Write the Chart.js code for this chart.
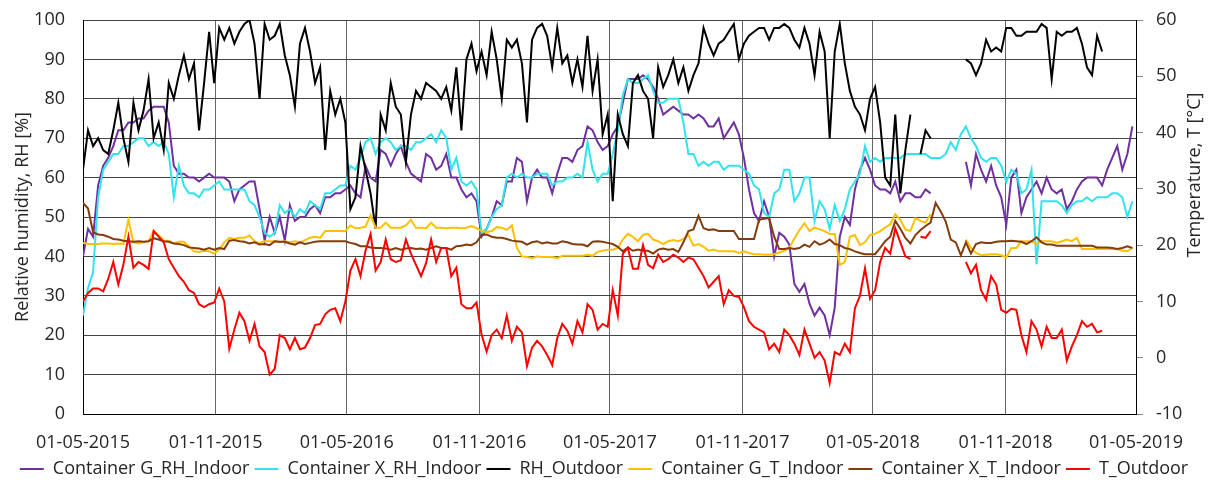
<!DOCTYPE html>
<html>
<head>
<meta charset="utf-8">
<script src="https://cdn.jsdelivr.net/npm/chart.js@4/dist/chart.umd.min.js"></script>
<style>
  html, body { margin: 0; padding: 0; background: #fff; }
  #wrap { width: 1208px; height: 485px; }
</style>
</head>
<body>
<div id="wrap"><canvas id="chart" width="1208" height="485"></canvas></div>
<script>
// weekly readings, week 0 = 01-05-2015
const G_RH_IN = [
  40, 47, 45, 58, 63, 65, 68, 72, 72, 74,
  74, 75, 75, 77, 78, 78, 78, 74, 63, 61,
  61, 60, 60, 59, 60, 61, 60, 60, 60, 59,
  54, 57, 58, 59, 59, 52, 44, 50, 46, 50,
  44, 53, 49, 50, 50, 52, 53, 51, 55, 55,
  56, 56, 57, 58, 56, 55, 63, 60, 59, 67,
  66, 63, 66, 68, 64, 61, 60, 59, 66, 65,
  62, 63, 66, 60, 60, 57, 55, 56, 54, 45,
  47, 50, 54, 53, 59, 59, 65, 64, 54, 60,
  62, 60, 60, 56, 61, 65, 65, 64, 67, 68,
  73, 72, 69, 67, 68, 71, 73, 79, 85, 85,
  85, 86, 85, 83, 80, 76, 77, 78, 77, 76,
  76, 75, 76, 75, 73, 73, 75, 70, 72, 74,
  71, 65, 57, 51, 49, 54, 50, 40, 46, 45,
  43, 33, 31, 33, 28, 25, 27, 25, 20, 27,
  45, 50, 48, 57, 62, 65, 62, 58, 57, 57,
  56, 59, 54, 56, 56, 55, 55, 57, 56, null,
  null, null, null, null, null, 64, 58, 66, 62, 59,
  63, 58, 55, 48, 60, 62, 51, 55, 57, 59,
  56, 60, 57, 56, 57, 52, 54, 57, 59, 60,
  60, 60, 58, 62, 65, 68, 62, 66, 73
];
const X_RH_IN = [
  25, 32, 36, 55, 62, 64, 66, 66, 68, 68,
  69, 70, 70, 68, 69, 68, 69, 66, 55, 63,
  58, 56, 56, 55, 57, 57, 58, 59, 57, 57,
  57, 57, 57, 54, 53, 50, 46, 45, 46, 53,
  51, 52, 50, 52, 51, 54, 53, 52, 56, 56,
  57, 58, 58, 63, 62, 65, 69, 70, 66, 69,
  70, 69, 67, 68, 68, 67, 69, 69, 70, 71,
  69, 72, 70, 62, 65, 59, 58, 59, 57, 46,
  47, 50, 52, 53, 60, 61, 60, 61, 60, 60,
  61, 61, 61, 58, 59, 59, 60, 60, 61, 60,
  69, 62, 59, 61, 61, 66, 72, 81, 85, 84,
  84, 85, 86, 82, 79, 79, 80, 80, 80, 74,
  66, 66, 63, 64, 63, 64, 64, 62, 63, 63,
  63, 62, 61, 58, 57, 51, 50, 56, 57, 62,
  62, 54, 56, 60, 60, 49, 54, 52, 47, 53,
  49, 52, 57, 59, 61, 68, 64, 65, 64, 65,
  65, 65, 65, 66, 66, 66, 66, 66, 65, 65,
  65, 66, 69, 67, 71, 73, 70, 68, 65, 64,
  65, 65, 63, 59, 62, 61, 56, 57, 62, 38,
  54, 54, 54, 54, 53, 51, 53, 54, 54, 55,
  54, 55, 55, 55, 56, 56, 55, 50, 54
];
const RH_OUT = [
  62, 72, 68, 70, 67, 66, 72, 79, 70, 64,
  79, 72, 77, 85, 70, 74, 67, 84, 80, 86,
  91, 85, 89, 72, 84, 97, 84, 98, 95, 98,
  94, 97, 99, 100, 94, 80, 99, 95, 96, 99,
  91, 86, 78, 94, 98, 92, 84, 88, 67, 82,
  76, 80, 74, 52, 55, 68, 62, 56, 47, 76,
  72, 84, 78, 76, 64, 76, 82, 80, 84, 83,
  82, 80, 83, 77, 88, 72, 90, 94, 87, 92,
  86, 97, 90, 80, 95, 93, 95, 89, 74, 95,
  98, 99, 96, 88, 98, 89, 91, 84, 90, 83,
  96, 82, 90, 71, 76, 54, 76, 71, 68, 84,
  86, 82, 80, 70, 88, 83, 86, 90, 84, 88,
  82, 86, 89, 98, 94, 91, 94, 95, 97, 99,
  90, 94, 96, 97, 98, 98, 95, 98, 98, 99,
  98, 95, 93, 98, 94, 86, 97, 92, 70, 92,
  99, 89, 82, 78, 76, 72, 80, 83, 74, 60,
  58, 76, 56, 67, 76, null, 66, 72, 70, null,
  null, null, null, null, null, 90, 89, 86, 89, 95,
  92, 93, 92, 98, 98, 96, 96, 97, 97, 97,
  99, 98, 85, 97, 96, 97, 97, 98, 94, 88,
  86, 96, 92, null, null, null, null, null, null
];
const G_T_IN = [
  20.4, 20.2, 20.2, 20.2, 20.3, 20.3, 20.2, 20.3, 20.2, 24.5,
  20.5, 20.3, 20.5, 20.7, 22.5, 21.8, 20.8, 20.8, 20.3, 20.6,
  20.6, 19.8, 18.9, 18.8, 19.0, 18.9, 18.5, 19.2, 20.5, 21.3,
  21.1, 21.3, 21.3, 21.7, 20.7, 20.4, 20.7, 20.7, 20.7, 20.5,
  20.7, 20.5, 20.7, 20.5, 20.9, 21.3, 21.5, 21.3, 22.5, 22.5,
  22.5, 22.5, 22.5, 23.5, 23.0, 23.1, 23.3, 25.3, 23.1, 23.1,
  24.0, 23.1, 23.1, 23.1, 23.5, 24.5, 23.1, 23.1, 23.0, 24.0,
  23.1, 23.1, 23.0, 23.1, 23.1, 23.0, 23.1, 23.4, 23.0, 22.5,
  22.3, 22.5, 23.2, 23.1, 22.7, 23.5, 19.5, 18.0, 17.9, 17.7,
  18.0, 17.9, 17.9, 17.9, 17.7, 18.1, 18.1, 18.1, 18.1, 18.1,
  18.3, 18.1, 18.8, 19.0, 19.2, 19.2, 19.5, 21.0, 22.0, 21.5,
  20.7, 21.8, 22.0, 21.0, 20.7, 20.2, 20.7, 20.9, 20.7, 21.1,
  21.8, 19.9, 20.2, 19.7, 19.0, 19.2, 18.9, 18.9, 18.9, 18.9,
  18.6, 18.9, 18.6, 18.4, 18.4, 18.3, 18.3, 18.4, 18.7, 19.0,
  19.5, 21.2, 22.7, 23.9, 22.5, 23.1, 22.8, 22.5, 22.0, 22.0,
  16.5, 17.0, 21.5, 21.8, 20.0, 20.5, 21.8, 22.0, 22.5, 23.1,
  23.7, 25.5, 24.5, 22.8, 22.5, 24.8, 24.3, 24.0, 25.5, null,
  null, null, null, null, null, 21.0, 19.5, 18.6, 18.2, 18.3,
  18.4, 18.4, 18.2, 17.8, 19.5, 19.5, 20.7, 20.7, 20.7, 20.2,
  20.7, 20.7, 20.7, 20.4, 20.7, 21.0, 20.7, 21.3, 19.3, 19.3,
  19.3, 19.3, 19.3, 19.3, 19.3, 19.3, 19.0, 18.9, 19.5
];
const X_T_IN = [
  27.5, 26.5, 22.3, 21.9, 21.8, 21.5, 21.1, 21.0, 20.8, 20.7,
  20.6, 20.7, 20.6, 20.7, 21.2, 21.0, 20.7, 20.6, 20.3, 20.2,
  20.0, 19.6, 19.5, 19.4, 19.2, 19.5, 19.2, 19.5, 19.3, 20.8,
  20.9, 20.7, 20.6, 20.3, 20.5, 20.1, 20.2, 20.0, 20.7, 20.6,
  20.6, 20.3, 20.1, 20.5, 20.2, 20.4, 20.6, 20.7, 20.7, 20.7,
  20.7, 20.7, 20.7, 20.4, 20.2, 19.8, 19.8, 19.6, 19.5, 19.5,
  19.4, 19.2, 19.5, 19.2, 19.4, 19.5, 19.3, 19.4, 19.2, 19.5,
  19.8, 19.5, 19.5, 19.2, 19.8, 19.9, 20.1, 20.0, 20.5, 21.8,
  21.9, 21.5, 21.3, 21.3, 21.1, 20.8, 20.7, 20.6, 20.1, 20.5,
  20.7, 20.3, 20.5, 20.3, 20.3, 20.7, 20.5, 20.2, 20.1, 20.1,
  19.8, 20.6, 20.7, 20.6, 20.4, 20.2, 19.7, 18.9, 19.6, 19.0,
  19.2, 19.0, 19.0, 18.5, 19.2, 19.4, 19.2, 19.3, 18.8, 20.5,
  22.5, 22.8, 25.2, 23.0, 22.7, 22.8, 22.5, 22.5, 22.5, 22.5,
  21.1, 21.1, 21.1, 21.1, 24.5, 24.7, 24.8, 21.5, 19.3, 19.3,
  19.5, 19.3, 19.5, 20.1, 19.7, 20.7, 20.1, 20.4, 21.0, 20.2,
  20.0, 19.5, 19.3, 18.9, 18.6, 18.4, 18.4, 18.4, 19.5, 20.7,
  21.5, 24.3, 22.9, 21.3, 20.3, 21.8, 22.7, 23.4, 24.0, 27.5,
  26.0, 24.2, 21.0, 20.5, 18.2, 20.5, 18.5, 20.2, 20.5, 20.4,
  20.4, 20.6, 20.7, 20.7, 20.8, 20.7, 20.6, 20.2, 20.7, 21.4,
  20.5, 20.1, 20.1, 19.9, 19.9, 19.9, 19.9, 19.9, 19.9, 19.9,
  19.9, 19.6, 19.6, 19.6, 19.5, 19.3, 19.5, 19.8, 19.5
];
const T_OUT = [
  10.0, 11.5, 12.3, 12.3, 11.8, 14.0, 17.0, 13.0, 16.5, 21.5,
  16.0, 17.0, 16.5, 15.8, 22.5, 21.5, 20.5, 17.5, 16.0, 14.5,
  13.5, 12.0, 11.5, 9.5, 9.0, 9.5, 9.8, 12.3, 10.0, 1.6,
  5.0, 8.0, 6.5, 3.0, 6.0, 2.0, 1.0, -3.0, -2.0, 4.0,
  3.5, 1.5, 3.5, 1.5, 1.8, 3.5, 5.8, 6.0, 7.7, 8.5,
  8.8, 6.5, 10.0, 15.5, 17.5, 14.5, 19.0, 22.0, 15.5, 17.0,
  21.0, 17.5, 17.0, 17.3, 21.0, 18.5, 16.5, 14.5, 16.8, 21.0,
  17.0, 19.5, 19.5, 14.5, 16.0, 9.5, 8.8, 8.8, 9.8, 4.1,
  1.1, 4.0, 5.0, 3.5, 7.5, 3.0, 5.5, 4.5, -1.5, 1.8,
  3.0, 2.0, 0.5, -1.3, 3.5, 6.0, 4.8, 2.5, 6.5, 4.5,
  9.5, 8.5, 5.0, 6.0, 5.5, 12.0, 7.5, 18.5, 19.5, 15.8,
  15.8, 20.0, 16.5, 15.9, 18.3, 17.0, 17.5, 18.3, 17.8, 17.0,
  17.8, 17.5, 16.0, 14.5, 12.5, 13.5, 14.5, 9.5, 12.0, 11.0,
  10.8, 9.0, 6.5, 5.5, 5.0, 4.5, 1.5, 2.5, 1.0, 5.0,
  4.0, 2.5, 0.5, 5.0, 2.5, 0.0, 1.0, -0.5, -4.5, 1.0,
  0.5, 2.5, 1.0, 8.8, 11.0, 15.9, 10.5, 12.0, 17.0, 19.5,
  18.5, 23.0, 20.5, 18.0, 17.5, null, 21.5, 21.3, 22.5, null,
  null, null, null, null, null, 17.0, 15.0, 16.5, 12.0, 10.3,
  14.5, 13.0, 8.5, 8.0, 8.7, 8.5, 4.0, 1.0, 6.5, 5.0,
  2.0, 5.5, 3.5, 3.5, 5.0, -0.5, 2.0, 4.0, 6.5, 5.5,
  6.0, 4.5, 4.8, null, null, null, null, null, null
];

const DAYS = T_OUT.map((_, i) => i * 7);
const TICK_DAYS = [0, 184, 366, 550, 731, 915, 1096, 1280, 1461];
const TICK_LABELS = ['01-05-2015', '01-11-2015', '01-05-2016', '01-11-2016', '01-05-2017',
  '01-11-2017', '01-05-2018', '01-11-2018', '01-05-2019'];

const FONT = 'Open Sans';
const TEXT = '#262626';

function pts(values) {
  return values.map((v, i) => ({ x: DAYS[i], y: v }));
}

function series(label, values, color, axis) {
  return {
    label,
    data: pts(values),
    yAxisID: axis,
    borderColor: color,
    backgroundColor: color,
    borderWidth: 2,
    pointRadius: 0,
    tension: 0,
    spanGaps: false
  };
}

// listed back to front so T_Outdoor ends up drawn on top; legend is reversed
const datasets = [
  series('T_Outdoor', T_OUT, '#ff0000', 'y1'),
  series('Container X_T_Indoor', X_T_IN, '#843c0c', 'y1'),
  series('Container G_T_Indoor', G_T_IN, '#ffc000', 'y1'),
  series('RH_Outdoor', RH_OUT, '#000000', 'y'),
  series('Container X_RH_Indoor', X_RH_IN, '#33e3ec', 'y'),
  series('Container G_RH_Indoor', G_RH_IN, '#7030a0', 'y')
];

// right axis title reads bottom-to-top like the left one
const rightTitle = {
  id: 'rightTitle',
  afterDraw(chart) {
    const ctx = chart.ctx;
    ctx.save();
    ctx.translate(1195, 175);
    ctx.rotate(-Math.PI / 2);
    ctx.font = '18px "' + FONT + '"';
    ctx.fillStyle = TEXT;
    ctx.textAlign = 'center';
    ctx.textBaseline = 'middle';
    ctx.fillText('Temperature, T [°C]', 0, 0);
    ctx.restore();
  }
};

// fixed axis widths; drop the extra top/bottom room Chart.js reserves for tick padding
function fixWidth(w) {
  return scale => {
    scale.width = w;
    scale.paddingTop = 0;
    scale.paddingBottom = 0;
  };
}

new Chart(document.getElementById('chart'), {
  type: 'line',
  data: { datasets },
  plugins: [rightTitle],
  options: {
    responsive: false,
    devicePixelRatio: 1,
    animation: false,
    layout: { padding: { top: 20, left: 0, right: 0, bottom: -3 } },
    plugins: {
      tooltip: { enabled: false },
      legend: {
        position: 'bottom',
        reverse: true,
        labels: {
          usePointStyle: true,
          pointStyle: 'line',
          pointStyleWidth: 24,
          padding: 5,
          color: TEXT,
          font: { family: FONT, size: 18 }
        }
      }
    },
    scales: {
      x: {
        type: 'linear',
        min: 0,
        max: 1461,
        afterBuildTicks: scale => { scale.ticks = TICK_DAYS.map(v => ({ value: v })); },
        afterFit: scale => { scale.height = 41; },
        ticks: {
          autoSkip: false,
          maxRotation: 0,
          padding: 18,
          color: TEXT,
          font: { family: FONT, size: 18 },
          callback: v => TICK_LABELS[TICK_DAYS.indexOf(v)]
        },
        grid: { color: '#666', drawTicks: false },
        border: { color: '#000' }
      },
      y: {
        position: 'left',
        min: 0,
        max: 100,
        afterFit: fixWidth(83),
        ticks: { stepSize: 10, padding: 18, color: TEXT, font: { family: FONT, size: 18 } },
        grid: { color: '#444', drawTicks: false },
        border: { color: '#000' },
        title: {
          display: true,
          text: 'Relative humidity, RH [%]',
          color: TEXT,
          font: { family: FONT, size: 18 },
          padding: { top: 12, bottom: 0 }
        }
      },
      y1: {
        position: 'right',
        min: -10,
        max: 60,
        afterFit: fixWidth(72),
        ticks: { stepSize: 10, padding: 13, color: TEXT, font: { family: FONT, size: 18 } },
        grid: { drawOnChartArea: false, color: '#888', tickLength: 7 },
        border: { color: '#000' }
      }
    }
  }
});
</script>
</body>
</html>
